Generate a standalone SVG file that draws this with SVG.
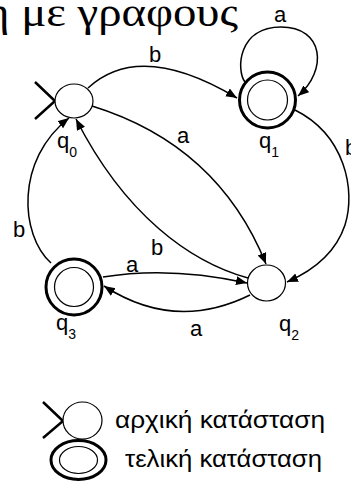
<svg xmlns="http://www.w3.org/2000/svg" width="351" height="501" viewBox="0 0 351 501">
<style>
.st{fill:#fff;stroke:#000;stroke-width:1.2}
.fo{fill:#fff;stroke:#000;stroke-width:3}
.fi{fill:none;stroke:#000;stroke-width:1.2}
.ed{fill:none;stroke:#000;stroke-width:1.5}
.mk{fill:none;stroke:#000;stroke-width:2.5}
.lb{font-family:"Liberation Sans",Arial,sans-serif;font-size:22px;fill:#000}
.sub{font-size:14px}
.lg{font-family:"Liberation Sans",Arial,sans-serif;font-size:24px;fill:#000}
.tt{font-family:"Liberation Serif","DejaVu Serif","Noto Serif","Times New Roman",serif;font-size:40px;fill:#000}
</style>
<defs>
<marker id="ah" markerWidth="12" markerHeight="10" refX="11" refY="4.5" orient="auto" markerUnits="userSpaceOnUse">
<path d="M0,0 L11,4.5 L0,9 z" fill="#000"/>
</marker>
</defs>
<text class="tt" x="-15" y="26" textLength="253" lengthAdjust="spacingAndGlyphs">η με γραφους</text>
<g id="edges">
<path class="ed" d="M88,88 Q140,40 237,98" marker-end="url(#ah)"/>
<path class="ed" d="M245,82 C236,70 238,27 281,27 C324,27 328,70 298,96" marker-end="url(#ah)"/>
<path class="ed" d="M295,110 C345,135 356,190 345,225 C335,255 310,272 287,282" marker-end="url(#ah)"/>
<path class="ed" d="M92,106 Q218,145 266,264" marker-end="url(#ah)"/>
<path class="ed" d="M248,278 C190,262 125,215 76,119" marker-end="url(#ah)"/>
<path class="ed" d="M103,277 Q170,266 247,283" marker-end="url(#ah)"/>
<path class="ed" d="M250,295 Q175,332 104,286" marker-end="url(#ah)"/>
<path class="ed" d="M51,263 C20,235 15,160 69,118" marker-end="url(#ah)"/>
<text class="lb" x="155" y="62" text-anchor="middle">b</text>
<text class="lb" x="280" y="22" text-anchor="middle">a</text>
<text class="lb" x="183" y="143" text-anchor="middle">a</text>
<text class="lb" x="345" y="155">b</text>
<text class="lb" x="157" y="255" text-anchor="middle">b</text>
<text class="lb" x="19" y="237" text-anchor="middle">b</text>
<text class="lb" x="132" y="272" text-anchor="middle">a</text>
<text class="lb" x="196" y="336" text-anchor="middle">a</text>
</g>
<g id="q0">
<path class="mk" d="M35,82 L55,101 L35,119"/>
<ellipse class="st" cx="74" cy="101" rx="19" ry="17"/>
<text class="lb" x="57" y="148">q<tspan class="sub" dy="9">0</tspan></text>
</g>
<g id="q1">
<circle class="fo" cx="267.5" cy="100" r="28"/>
<circle class="fi" cx="267.5" cy="100" r="20"/>
<text class="lb" x="259" y="148">q<tspan class="sub" dy="9">1</tspan></text>
</g>
<g id="q2">
<ellipse class="st" cx="266.5" cy="283" rx="19" ry="18"/>
<text class="lb" x="279" y="331">q<tspan class="sub" dy="9">2</tspan></text>
</g>
<g id="q3">
<circle class="fo" cx="74" cy="287" r="28"/>
<circle class="fi" cx="74" cy="287" r="19.5"/>
<text class="lb" x="56" y="330">q<tspan class="sub" dy="9">3</tspan></text>
</g>
<g id="legend-start">
<path class="mk" d="M43,402 L63,421 L43,438"/>
<ellipse class="st" cx="82.5" cy="420.5" rx="19.5" ry="18.5"/>
<text class="lg" x="115" y="428" textLength="210" lengthAdjust="spacingAndGlyphs">αρχική κατάσταση</text>
</g>
<g id="legend-final">
<ellipse class="fo" cx="78.5" cy="460" rx="27.5" ry="19.5"/>
<ellipse class="fi" cx="78.5" cy="460" rx="19" ry="13.5"/>
<text class="lg" x="125" y="467" textLength="197" lengthAdjust="spacingAndGlyphs">τελική κατάσταση</text>
</g>
</svg>
